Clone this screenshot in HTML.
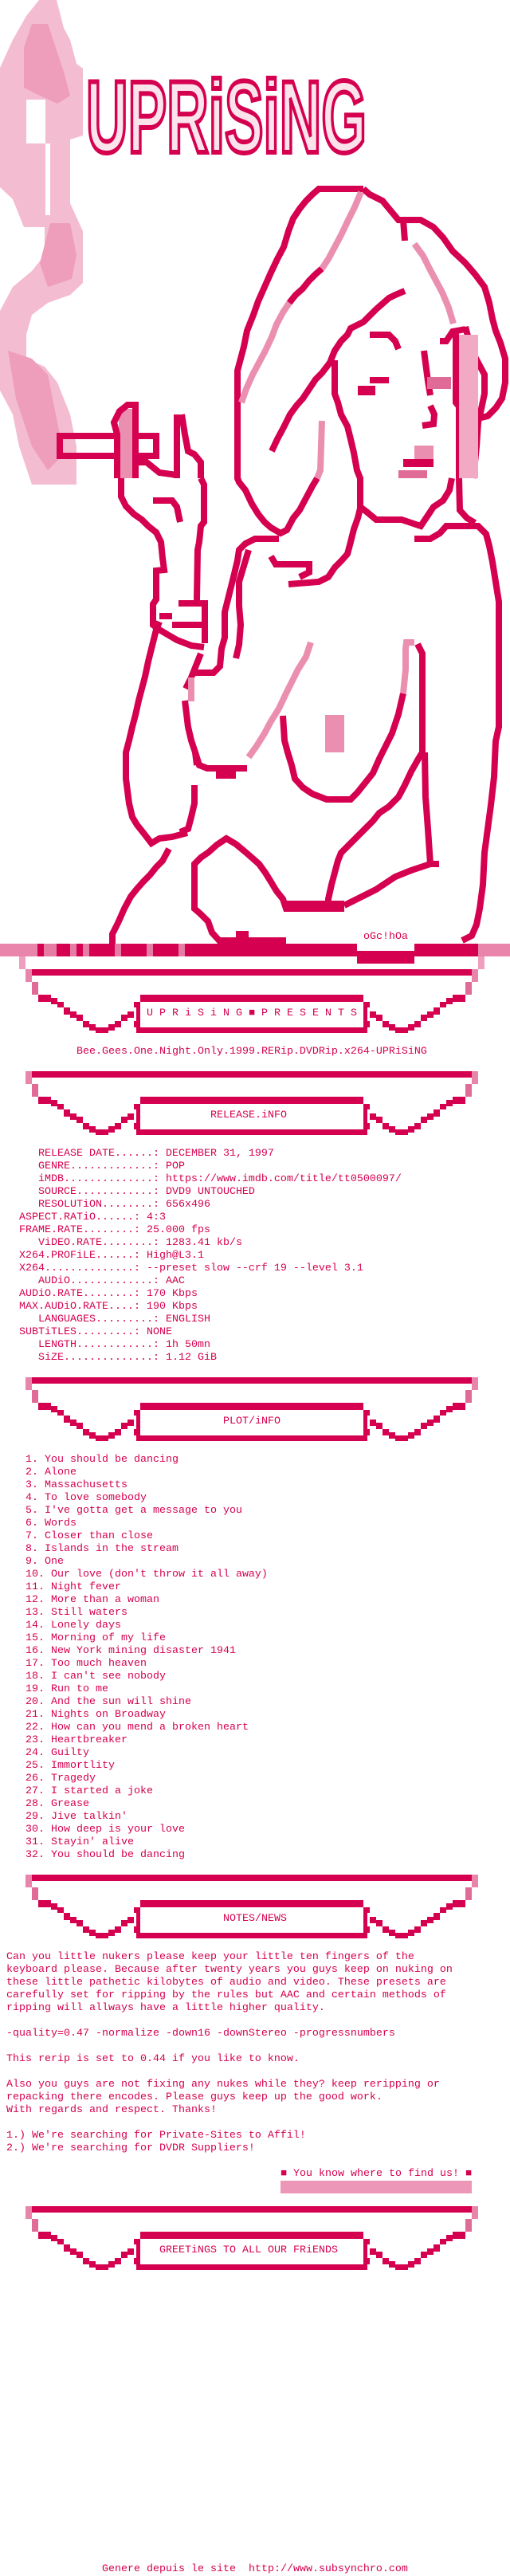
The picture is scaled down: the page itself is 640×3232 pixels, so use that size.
<!DOCTYPE html>
<html><head><meta charset="utf-8">
<style>
html,body{margin:0;padding:0;background:#fff}
body{width:640px;height:3232px;position:relative;overflow:hidden}
svg{position:absolute;left:0;top:0}
.t{position:absolute;margin:0;font-family:"Liberation Mono","DejaVu Sans Mono",monospace;font-size:13.333px;line-height:16px;color:#d5004f;white-space:pre}
</style></head><body>
<svg width="640" height="3232" viewBox="0 0 640 3232">
<defs>
<g id="half" fill="#d5004f">
<rect x="48" y="32" width="16" height="9"/><rect x="64" y="36" width="8" height="8"/><rect x="72" y="41" width="8" height="7"/>
<rect x="80" y="48" width="8" height="9"/><rect x="88" y="53" width="8" height="8"/><rect x="96" y="57" width="8" height="8"/>
<rect x="104" y="65" width="8" height="8"/><rect x="112" y="69" width="8" height="8"/><rect x="120" y="73" width="16" height="7"/>
<rect x="136" y="69" width="8" height="8"/><rect x="144" y="65" width="8" height="8"/><rect x="152" y="57" width="8" height="8"/>
<rect x="160" y="53" width="8" height="8"/><rect x="168" y="41" width="8" height="7"/><rect x="171" y="41" width="5" height="39"/>
<rect x="168" y="65" width="8" height="8"/>
<rect x="32" y="0" width="8" height="16" fill="#e985aa"/><rect x="40" y="16" width="8" height="16" fill="#e06b96"/>
</g>
<g id="ban">
<rect x="40" y="0" width="552" height="8" fill="#d5004f"/>
<rect x="176" y="32" width="280" height="9" fill="#d5004f"/>
<rect x="176" y="73" width="280" height="7" fill="#d5004f"/>
<use href="#half"/>
<use href="#half" transform="matrix(-1 0 0 1 632 0)"/>
</g>
</defs>

<!-- smoke -->
<polygon fill="#f4bcd1" points="49,0 71,0 80,35 88,50 96,80 104,86 104,170 88,175 88,255 104,290 104,355 88,370 60,380 40,395 33,420 33,450 56,460 72,480 88,520 96,560 96,608 40,608 24,560 16,520 0,490 0,390 16,360 40,340 56,320 56,285 30,285 16,250 0,235 0,85 16,50 33,20"/>
<polygon fill="#ee9dbb" points="40,30 60,30 70,60 80,90 88,120 72,130 50,120 30,110 30,60"/>
<rect x="33" y="125" width="24" height="55" fill="#fff"/>
<rect x="57" y="180" width="6" height="90" fill="#fff"/>
<polygon fill="#ee9dbb" points="63,280 88,280 96,320 90,350 60,360 50,330"/>
<polygon fill="#ee9dbb" points="10,440 40,450 60,470 70,520 80,570 60,590 40,560 20,500"/>

<!-- logo -->
<text x="108" y="191" font-family="Liberation Sans,sans-serif" font-weight="bold" font-size="128" textLength="352" lengthAdjust="spacingAndGlyphs" fill="#fbe3ec" stroke="#d5004f" stroke-width="6">UPRiSiNG</text>

<!-- cigarette -->
<rect x="75" y="547" width="121" height="25" fill="none" stroke="#d5004f" stroke-width="8"/>
<rect x="149" y="513" width="18" height="87" fill="#eb8fb1"/>

<g fill="none" stroke="#d5004f" stroke-width="8" stroke-linejoin="miter">
<polyline points="456,237 400,237 392,244 384,252 376,262 368,274 362,290 356,310 348,325 340,342 332,360 324,378 318,395 310,415 306,435 302,450 298,465 298,600 300,605 308,615 316,632 324,645 332,655 340,662 352,669 360,665 368,650 376,640 384,625 392,610 398,600"/>
<polyline points="456,237 464,244 480,252 490,264 500,276 528,276 544,285 556,298 568,315 584,330 596,344 608,360 614,380 618,400 622,415 628,430 634,450 634,480 630,500 622,512 612,522 604,524"/>
<polyline points="506,276 508,302"/>
<polyline points="404,337 396,344 388,352 380,362 371,370 363,380"/>
<polyline points="508,365 496,370 488,374 480,381 472,388 464,396 456,404 440,412 436,420 428,428 420,440 414,455 404,468 396,476 388,488 380,500 372,509 364,520 356,536 348,551 341,566"/>
<polyline points="420,452 420,494 424,505 428,520 436,535 440,551 444,568 448,590 452,600 452,638 449,650 444,664 440,680 436,695 428,704 420,712 412,724 400,730 362,733"/>
<polyline points="340,698 346,708 388,708 388,718 376,724"/>
<polyline points="452,636 460,642 472,652 504,652 528,660 536,648 544,636 556,628 564,615 567,600"/>
<polyline points="520,676 540,676 552,669 560,660 600,660 610,670 614,685 618,705 622,730 626,755 626,912 622,930 620,975 616,1010 612,1040 608,1070 606,1110 602,1140 598,1160 592,1174 580,1180"/>
<polyline points="576,600 577,640 586,650 596,656"/>
<polyline points="572,417 572,505 576,510 576,600"/>
<polyline points="584,410 592,440 600,455 608,470 608,494 604,513 600,530 598,560 594,600"/>
<polyline points="532,440 537,478 540,496"/>
<polyline points="552,428 560,428 568,416 584,413"/>
<polyline points="464,420 488,420 496,428 500,438"/>
<polyline points="540,509 545,520 544,532 530,534"/>
<polyline points="147,600 147,545 143,530 150,516 160,508 170,508 170,600"/>
<polyline points="222,520 222,600"/><polyline points="228,520 232,545 236,566 244,570 252,580 252,600"/>
<polyline points="167,580 184,580 200,593 222,596"/>
<polyline points="152,600 152,623 158,635 168,645 178,652 186,660 196,668 202,680 204,700 206,715 196,716 196,752 192,758 192,784 200,790 210,796 222,803 240,810 256,812"/>
<polyline points="192,628 216,628 222,636 226,655"/>
<polyline points="252,600 256,608 256,655 252,660 250,680 248,690 247,753"/>
<polyline points="224,757 257,757 257,807"/><polyline points="216,784 257,784"/><polyline points="200,773 216,773"/>
<polyline points="200,780 196,790 190,814 186,830 182,849 178,864 174,879 170,897 166,912 162,929 158,944 158,977 162,1008 166,1025 172,1035 180,1045 190,1058 200,1052 216,1050 235,1045"/>
<polyline points="212,1065 204,1080 196,1088 188,1098 180,1106 172,1115 164,1125 156,1140 148,1158 141,1172 141,1184"/>
<polyline points="233,864 240,850 246,835 252,820"/>
<polyline points="232,879 236,912 240,929 245,944 247,960"/>
<polyline points="244,985 244,1008 240,1025 236,1040 226,1044"/>
<polyline points="241,844 268,844 276,836 278,814 282,800 282,768 286,752 290,736 294,720 298,703 300,690 308,682 320,676 350,676"/>
<polyline points="312,690 306,710 300,730 300,760 302,784 300,809 296,826"/>
<polyline points="245,944 250,960 260,964 310,964"/>
<polyline points="355,898 357,929 361,944 366,960 370,977 380,988 392,996 410,1003 440,1003 448,995 456,985 468,970 476,952 484,936 492,920 500,896 506,870"/>
<polyline points="524,808 530,820 530,944 525,952 516,968 508,985 500,1000 488,1012 476,1020 468,1030 458,1040 448,1050 438,1060 428,1070 424,1080 420,1095 416,1110 412,1128 412,1140 359,1140 355,1128 347,1118 341,1108 333,1095 325,1084 316,1076 308,1069 296,1059 284,1052 272,1060 262,1069 252,1076 244,1084 244,1140 252,1147 261,1156 266,1170 275,1180 359,1180"/>
<polyline points="533,944 534,1000 537,1040 540,1084 551,1084"/>
<polyline points="540,1084 516,1092 496,1100 484,1108 472,1116 456,1124 440,1132 432,1136"/>
</g>
<g fill="none" stroke="#eb8fb1" stroke-width="8">
<polyline points="398,600 402,590 404,528"/>
<polyline points="453,241 445,260 437,276 428,295 420,310 412,325 404,337"/>
<polyline points="363,380 355,392 347,407 341,423 333,440 325,455 317,470 309,488 303,505"/>
<polyline points="520,306 531,321 539,337 547,352 555,367 563,386 569,406"/>
<polyline points="312,950 322,936 332,920 340,905 350,889 358,872 366,856 374,840 384,824 390,806"/>
<polyline points="506,870 509,840 509,814 510,806 520,806"/>
<polyline points="240,850 240,880"/>
</g>
<rect x="576" y="420" width="24" height="180" fill="#f1a9c4"/>
<rect x="449" y="484" width="22" height="12" fill="#d5004f"/><rect x="464" y="473" width="24" height="8" fill="#d5004f"/>
<rect x="536" y="473" width="30" height="15" fill="#e06b96"/>
<rect x="520" y="559" width="24" height="19" fill="#eb8fb1"/>
<rect x="506" y="576" width="38" height="10" fill="#d5004f"/><rect x="500" y="590" width="36" height="10" fill="#e06b96"/>
<rect x="408" y="897" width="24" height="47" fill="#eb8fb1"/>
<rect x="271" y="964" width="25" height="13" fill="#d5004f"/>
<rect x="296" y="1168" width="16" height="8" fill="#d5004f"/>
<rect x="359" y="1130" width="73" height="14" fill="#d5004f"/>

<!-- bottom bar of art -->
<rect x="0" y="1184" width="448" height="16" fill="#d5004f"/>
<rect x="520" y="1184" width="120" height="16" fill="#d5004f"/>
<rect x="448" y="1193" width="72" height="16" fill="#d5004f"/>
<rect x="0" y="1184" width="47" height="16" fill="#e985aa"/>
<rect x="600" y="1184" width="40" height="16" fill="#e985aa"/>
<g fill="#e67ca3"><rect x="55" y="1184" width="16" height="16"/><rect x="88" y="1184" width="8" height="16"/><rect x="104" y="1184" width="8" height="16"/><rect x="144" y="1184" width="8" height="16"/><rect x="184" y="1184" width="8" height="16"/><rect x="224" y="1184" width="8" height="16"/></g>
<rect x="24" y="1200" width="8" height="16" fill="#ef9fbd"/><rect x="600" y="1200" width="8" height="16" fill="#ef9fbd"/>

<use href="#ban" transform="translate(0,1216)"/>
<use href="#ban" transform="translate(0,1344)"/>
<use href="#ban" transform="translate(0,1728)"/>
<use href="#ban" transform="translate(0,2352)"/>
<use href="#ban" transform="translate(0,2768)"/>
<rect x="352" y="2736" width="240" height="16" fill="#ec97b7"/>
</svg>

<div class="t" style="top:1168px;left:456px">oGc!hOa</div>
<div class="t" style="top:1264px;left:184px">U P R i S i N G ■ P R E S E N T S</div>
<div class="t" style="top:1312px;left:96px">Bee.Gees.One.Night.Only.1999.RERip.DVDRip.x264-UPRiSiNG</div>
<div class="t" style="top:1392px;left:264px">RELEASE.iNFO</div>
<div class="t" style="top:1440px;left:24px">   RELEASE DATE......: DECEMBER 31, 1997
   GENRE.............: POP
   iMDB..............: https://www.imdb.com/title/tt0500097/
   SOURCE............: DVD9 UNTOUCHED
   RESOLUTiON........: 656x496
ASPECT.RATiO......: 4:3
FRAME.RATE........: 25.000 fps
   ViDEO.RATE........: 1283.41 kb/s
X264.PROFiLE......: High@L3.1
X264..............: --preset slow --crf 19 --level 3.1
   AUDiO.............: AAC
AUDiO.RATE........: 170 Kbps
MAX.AUDiO.RATE....: 190 Kbps
   LANGUAGES.........: ENGLISH
SUBTiTLES.........: NONE
   LENGTH............: 1h 50mn
   SiZE..............: 1.12 GiB</div>
<div class="t" style="top:1776px;left:280px">PLOT/iNFO</div>
<div class="t" style="top:1824px;left:32px">1. You should be dancing
2. Alone
3. Massachusetts
4. To love somebody
5. I've gotta get a message to you
6. Words
7. Closer than close
8. Islands in the stream
9. One
10. Our love (don't throw it all away)
11. Night fever
12. More than a woman
13. Still waters
14. Lonely days
15. Morning of my life
16. New York mining disaster 1941
17. Too much heaven
18. I can't see nobody
19. Run to me
20. And the sun will shine
21. Nights on Broadway
22. How can you mend a broken heart
23. Heartbreaker
24. Guilty
25. Immortlity
26. Tragedy
27. I started a joke
28. Grease
29. Jive talkin'
30. How deep is your love
31. Stayin' alive
32. You should be dancing</div>
<div class="t" style="top:2400px;left:280px">NOTES/NEWS</div>
<div class="t" style="top:2448px;left:8px">Can you little nukers please keep your little ten fingers of the
keyboard please. Because after twenty years you guys keep on nuking on
these little pathetic kilobytes of audio and video. These presets are
carefully set for ripping by the rules but AAC and certain methods of
ripping will allways have a little higher quality.

-quality=0.47 -normalize -down16 -downStereo -progressnumbers

This rerip is set to 0.44 if you like to know.

Also you guys are not fixing any nukes while they? keep reripping or
repacking there encodes. Please guys keep up the good work.
With regards and respect. Thanks!

1.) We're searching for Private-Sites to Affil!
2.) We're searching for DVDR Suppliers!</div>
<div class="t" style="top:2720px;left:352px">■ You know where to find us! ■</div>
<div class="t" style="top:2816px;left:200px">GREETiNGS TO ALL OUR FRiENDS</div>
<div class="t" style="top:3216px;left:128px">Genere depuis le site  http://www.subsynchro.com</div>
</body></html>
